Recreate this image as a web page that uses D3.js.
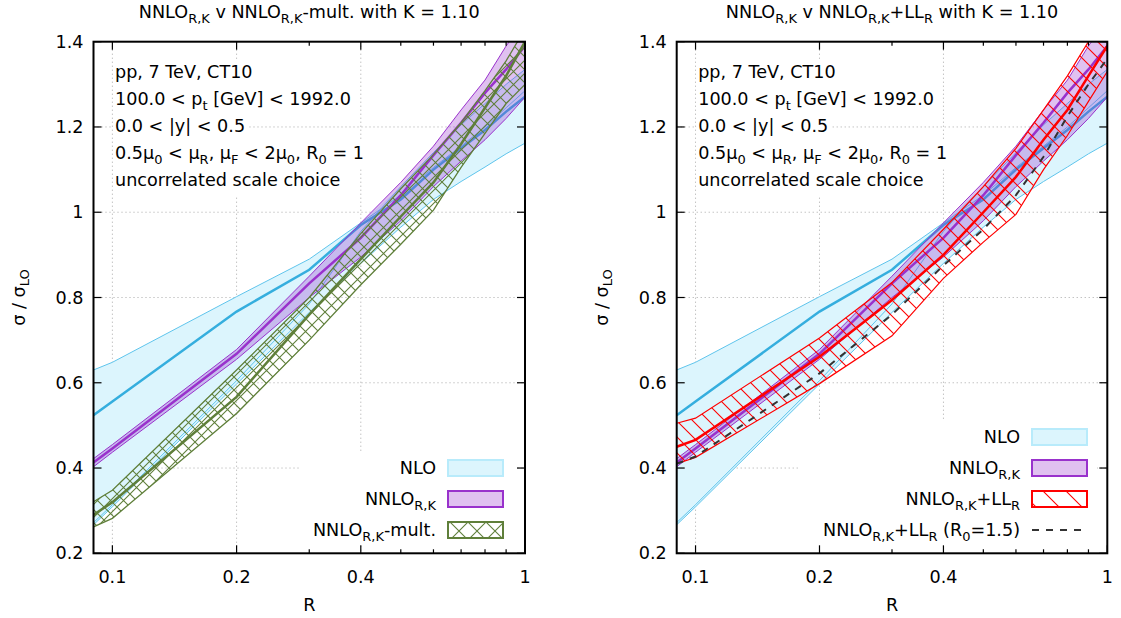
<!DOCTYPE html>
<html><head><meta charset="utf-8">
<script src="https://cdn.jsdelivr.net/npm/d3@7"></script>
<style>body{margin:0;background:#fff;} text{font-family:"DejaVu Sans",sans-serif;fill:#000;}</style>
</head><body><svg id="c" width="1121" height="618"></svg>
<script>
// ---------------- data ----------------
const R = [0.09, 0.1, 0.2, 0.3, 0.4, 0.5, 0.6, 0.7, 0.8, 0.9, 1.0];
const nloCentral = [0.524, 0.556, 0.767, 0.865, 0.970, 1.030, 1.100, 1.150, 1.193, 1.236, 1.271];
const nloVarA    = [0.630, 0.648, 0.802, 0.890, 0.975, 1.040, 1.105, 1.155, 1.200, 1.245, 1.285];
const nloVarB    = [0.267, 0.309, 0.597, 0.765, 0.880, 0.965, 1.030, 1.072, 1.106, 1.137, 1.162];
const nloVarC    = [0.272, 0.314, 0.605, 0.785, 0.955, 1.060, 1.140, 1.205, 1.255, 1.300, 1.335];
const nnloCentral = [0.413, 0.446, 0.668, 0.833, 0.940, 1.040, 1.134, 1.210, 1.280, 1.335, 1.390];
const nnloUpper   = [0.422, 0.455, 0.678, 0.850, 0.975, 1.070, 1.155, 1.240, 1.310, 1.390, 1.450];
const nnloLower   = [0.403, 0.437, 0.655, 0.800, 0.895, 0.980, 1.060, 1.120, 1.170, 1.220, 1.270];
const multCentral = [0.290, 0.320, 0.567, 0.760, 0.890, 0.990, 1.070, 1.160, 1.245, 1.320, 1.400];
const multUpper   = [0.321, 0.348, 0.630, 0.800, 0.950, 1.055, 1.135, 1.210, 1.285, 1.355, 1.430];
const multLower   = [0.262, 0.282, 0.528, 0.700, 0.830, 0.925, 1.005, 1.105, 1.185, 1.255, 1.300];
const llCentral   = [0.450, 0.466, 0.661, 0.794, 0.900, 1.000, 1.083, 1.170, 1.240, 1.320, 1.390];
const llUpper     = [0.505, 0.517, 0.705, 0.835, 0.960, 1.060, 1.150, 1.240, 1.320, 1.400, 1.460];
const llLower     = [0.410, 0.425, 0.598, 0.710, 0.845, 0.930, 0.995, 1.100, 1.180, 1.260, 1.330];
const llR0Central = [0.410, 0.427, 0.622, 0.760, 0.875, 0.960, 1.040, 1.130, 1.225, 1.300, 1.360];

const xMajorTicks = [0.1, 0.2, 0.4, 1];
const xTickLabels = ["0.1", "0.2", "0.4", "1"];
const xMinorTicks = [0.3, 0.5, 0.6, 0.7, 0.8, 0.9];
const yTicks = [0.2, 0.4, 0.6, 0.8, 1.0, 1.2, 1.4];
const yTickLabels = ["0.2", "0.4", "0.6", "0.8", "1", "1.2", "1.4"];
const S = (t) => ({t, sub: true});
const infoLines = [
  ["pp, 7 TeV, CT10"],
  ["100.0 < p", S("t"), " [GeV] < 1992.0"],
  ["0.0 < |y| < 0.5"],
  ["0.5μ", S("0"), " < μ", S("R"), ", μ", S("F"), " < 2μ", S("0"), ", R", S("0"), " = 1"],
  ["uncorrelated scale choice"]
];
const titleLeft  = ["NNLO", S("R,K"), " v NNLO", S("R,K"), "-mult. with K = 1.10"];
const titleRight = ["NNLO", S("R,K"), " v NNLO", S("R,K"), "+LL", S("R"), " with K = 1.10"];
const legLeft = [
  {key: "nlo",  label: ["NLO"]},
  {key: "nnlo", label: ["NNLO", S("R,K")]},
  {key: "mult", label: ["NNLO", S("R,K"), "-mult."]}
];
const legRight = [
  {key: "nlo",  label: ["NLO"]},
  {key: "nnlo", label: ["NNLO", S("R,K")]},
  {key: "ll",   label: ["NNLO", S("R,K"), "+LL", S("R")]},
  {key: "r0",   label: ["NNLO", S("R,K"), "+LL", S("R"), " (R", S("0"), "=1.5)"]}
];

// ---------------- styles ----------------
const C = {
  nloFill: "#dcf5fd", nloThin: "#5ec4ec", nloLine: "#35aede", nloLegBorder: "#b8ebfb",
  nnloFill: "rgba(153,50,204,0.30)", nnloLine: "#9932cc",
  mult: "#5f7f3a", ll: "#ff0000", r0: "#333333", grid: "#a8a8a8"
};
const FS = 17.6, SUBFS = 13, SUBDY = 4.5;

const svg = d3.select("#c");
const defs = svg.append("defs");
const px = defs.append("pattern").attr("id", "xhatch").attr("patternUnits", "userSpaceOnUse")
  .attr("width", 13).attr("height", 13);
px.append("path").attr("d", "M0,0L13,13M0,13L13,0").attr("stroke", C.mult).attr("stroke-width", 1.1).attr("fill", "none");
const pr = defs.append("pattern").attr("id", "rhatch").attr("patternUnits", "userSpaceOnUse")
  .attr("width", 16).attr("height", 16);
pr.append("path").attr("d", "M0,0L16,16M-4,12L4,20M12,-4L20,4").attr("stroke", C.ll).attr("stroke-width", 1.1).attr("fill", "none");
const prl = defs.append("pattern").attr("id", "rhatchLeg").attr("patternUnits", "userSpaceOnUse")
  .attr("width", 23).attr("height", 23);
prl.append("path").attr("d", "M0,0L23,23M-6,17L6,29M17,-6L29,6").attr("stroke", C.ll).attr("stroke-width", 1.1).attr("fill", "none");
const pxl = defs.append("pattern").attr("id", "xhatchLeg").attr("patternUnits", "userSpaceOnUse")
  .attr("width", 18).attr("height", 18).attr("x", 0).attr("y", 0);
pxl.append("path").attr("d", "M0,0L18,18M0,18L18,0").attr("stroke", C.mult).attr("stroke-width", 1.1).attr("fill", "none");

function richText(sel, parts) {
  let shifted = false;
  parts.forEach(p => {
    if (typeof p === "string") {
      const ts = sel.append("tspan").text(p);
      if (shifted) { ts.attr("dy", -SUBDY); shifted = false; }
    } else {
      sel.append("tspan").attr("dy", shifted ? 0 : SUBDY).attr("font-size", SUBFS).text(p.t);
      shifted = true;
    }
  });
  return sel;
}

function panel(opts) {
  const g = svg.append("g");
  const x = d3.scaleLog().domain([0.09, 1]).range([opts.left, opts.right]);
  const y = d3.scaleLinear().domain([0.2, 1.4]).range([553.3, 41.7]);
  const clipId = "clip" + opts.id;
  defs.append("clipPath").attr("id", clipId).append("rect")
    .attr("x", x.range()[0]).attr("y", y.range()[1])
    .attr("width", x.range()[1] - x.range()[0]).attr("height", y.range()[0] - y.range()[1]);

  // grid
  const grid = g.append("g").attr("stroke", C.grid).attr("stroke-width", 1).attr("stroke-dasharray", "1,3");
  xMajorTicks.slice(0, 3).forEach(t => grid.append("line")
    .attr("x1", x(t)).attr("x2", x(t)).attr("y1", y(1.4)).attr("y2", y(0.2)));
  yTicks.slice(1, 6).forEach(t => grid.append("line")
    .attr("x1", x.range()[0]).attr("x2", x.range()[1]).attr("y1", y(t)).attr("y2", y(t)));

  // white boxes (info text + legend)
  const boxes = g.append("g");
  const info = g.append("g");
  infoLines.forEach((ln, i) => {
    const t = info.append("text").attr("x", x.range()[0] + 21.5).attr("y", 78 + i * 27)
      .attr("font-size", FS);
    richText(t, ln);
  });
  info.selectAll("text").each(function () {
    const b = this.getBBox();
    boxes.append("rect").attr("x", b.x - 2).attr("y", b.y - 2).attr("width", b.width + 4)
      .attr("height", 27).attr("fill", "#fff");
  });
  boxes.append("rect").attr("x", opts.legBox[0]).attr("y", opts.legBox[1])
    .attr("width", opts.legBox[2]).attr("height", opts.legBox[3]).attr("fill", "#fff");

  const data = g.append("g").attr("clip-path", `url(#${clipId})`);
  const idx = d3.range(R.length);
  const line = (arr) => d3.line().x(i => x(R[i])).y(i => y(arr[i]))(idx);
  const area = (lo, hi) => d3.area().x(i => x(R[i])).y0(i => y(lo[i])).y1(i => y(hi[i]))(idx);

  // NLO
  const nloLo = R.map((_, i) => d3.min([nloVarA[i], nloVarB[i], nloVarC[i]]));
  const nloHi = R.map((_, i) => d3.max([nloVarA[i], nloVarB[i], nloVarC[i]]));
  data.append("path").attr("d", area(nloLo, nloHi)).attr("fill", C.nloFill);
  [nloVarA, nloVarB, nloVarC].forEach(a => data.append("path").attr("d", line(a))
    .attr("fill", "none").attr("stroke", C.nloThin).attr("stroke-width", 1));
  data.append("path").attr("d", line(nloCentral)).attr("fill", "none")
    .attr("stroke", C.nloLine).attr("stroke-width", 2.5);

  // NNLO
  data.append("path").attr("d", area(nnloLower, nnloUpper)).attr("fill", C.nnloFill);
  [nnloLower, nnloUpper].forEach(a => data.append("path").attr("d", line(a))
    .attr("fill", "none").attr("stroke", C.nnloLine).attr("stroke-width", 1));
  data.append("path").attr("d", line(nnloCentral)).attr("fill", "none")
    .attr("stroke", C.nnloLine).attr("stroke-width", 2.5);

  if (opts.id === "L") {
    data.append("path").attr("d", area(multLower, multUpper)).attr("fill", "url(#xhatch)");
    [multLower, multUpper].forEach(a => data.append("path").attr("d", line(a))
      .attr("fill", "none").attr("stroke", C.mult).attr("stroke-width", 1.3));
    data.append("path").attr("d", line(multCentral)).attr("fill", "none")
      .attr("stroke", C.mult).attr("stroke-width", 2.5);
  } else {
    data.append("path").attr("d", area(llLower, llUpper)).attr("fill", "url(#rhatch)");
    [llLower, llUpper].forEach(a => data.append("path").attr("d", line(a))
      .attr("fill", "none").attr("stroke", C.ll).attr("stroke-width", 1.2));
    data.append("path").attr("d", line(llCentral)).attr("fill", "none")
      .attr("stroke", C.ll).attr("stroke-width", 2.5);
    data.append("path").attr("d", line(llR0Central)).attr("fill", "none")
      .attr("stroke", C.r0).attr("stroke-width", 2).attr("stroke-dasharray", "7,7");
  }

  // legend
  const leg = g.append("g");
  opts.legend.forEach((e, i) => {
    const cy = opts.legY0 + i * opts.legDy;
    const t = leg.append("text").attr("x", opts.legTextX).attr("y", cy + 6)
      .attr("text-anchor", "end").attr("font-size", FS);
    richText(t, e.label);
    const sx = opts.legTextX + 12, sw = 55, sh = 16;
    if (e.key === "nlo") {
      leg.append("rect").attr("x", sx).attr("y", cy - 8).attr("width", sw).attr("height", sh)
        .attr("fill", C.nloFill).attr("stroke", C.nloLegBorder).attr("stroke-width", 2);
    } else if (e.key === "nnlo") {
      leg.append("rect").attr("x", sx).attr("y", cy - 8).attr("width", sw).attr("height", sh)
        .attr("fill", "rgba(153,50,204,0.30)").attr("stroke", C.nnloLine).attr("stroke-width", 2);
    } else if (e.key === "mult") {
      leg.append("rect").attr("x", sx).attr("y", cy - 8).attr("width", sw).attr("height", sh)
        .attr("fill", "url(#xhatchLeg)").attr("stroke", C.mult).attr("stroke-width", 2);
    } else if (e.key === "ll") {
      leg.append("rect").attr("x", sx).attr("y", cy - 8).attr("width", sw).attr("height", sh)
        .attr("fill", "url(#rhatchLeg)").attr("stroke", C.ll).attr("stroke-width", 2);
    } else {
      leg.append("line").attr("x1", sx).attr("x2", sx + sw).attr("y1", cy).attr("y2", cy)
        .attr("stroke", C.r0).attr("stroke-width", 2).attr("stroke-dasharray", "7,7");
    }
  });

  // ticks
  const tk = g.append("g").attr("stroke", "#000").attr("stroke-width", 1.2);
  const [x0, x1] = x.range(), [yb, yt] = y.range();
  yTicks.forEach(t => {
    tk.append("line").attr("x1", x0).attr("x2", x0 + 8).attr("y1", y(t)).attr("y2", y(t));
    tk.append("line").attr("x1", x1).attr("x2", x1 - 8).attr("y1", y(t)).attr("y2", y(t));
  });
  xMajorTicks.forEach(t => {
    tk.append("line").attr("x1", x(t)).attr("x2", x(t)).attr("y1", yb).attr("y2", yb - 8);
    tk.append("line").attr("x1", x(t)).attr("x2", x(t)).attr("y1", yt).attr("y2", yt + 8);
  });
  xMinorTicks.forEach(t => {
    tk.append("line").attr("x1", x(t)).attr("x2", x(t)).attr("y1", yb).attr("y2", yb - 4);
    tk.append("line").attr("x1", x(t)).attr("x2", x(t)).attr("y1", yt).attr("y2", yt + 4);
  });
  // frame
  g.append("rect").attr("x", x0).attr("y", yt).attr("width", x1 - x0).attr("height", yb - yt)
    .attr("fill", "none").attr("stroke", "#000").attr("stroke-width", 2);

  // tick labels
  yTicks.forEach((t, i) => g.append("text").attr("x", x0 - 10).attr("y", y(t) + 6)
    .attr("text-anchor", "end").attr("font-size", FS).text(yTickLabels[i]));
  xMajorTicks.forEach((t, i) => g.append("text").attr("x", x(t)).attr("y", 583)
    .attr("text-anchor", "middle").attr("font-size", FS).text(xTickLabels[i]));

  // axis labels
  const xm = (x0 + x1) / 2;
  g.append("text").attr("x", xm).attr("y", 611).attr("text-anchor", "middle")
    .attr("font-size", FS).text("R");
  const yl = g.append("text").attr("transform", `translate(${x0 - 69},${(yb + yt) / 2}) rotate(-90)`)
    .attr("text-anchor", "middle").attr("font-size", FS);
  richText(yl, ["σ / σ", S("LO")]);
  // title
  const tt = g.append("text").attr("x", xm).attr("y", 18).attr("text-anchor", "middle").attr("font-size", FS);
  richText(tt, opts.title);
}

panel({id: "L", left: 93.5, right: 525, title: titleLeft, legend: legLeft,
  legBox: [300, 452, 215, 94], legTextX: 436, legY0: 468, legDy: 31});
panel({id: "R", left: 676.7, right: 1107.3, title: titleRight, legend: legRight,
  legBox: [800, 421, 297, 125], legTextX: 1020, legY0: 437, legDy: 31});
</script></body></html>
